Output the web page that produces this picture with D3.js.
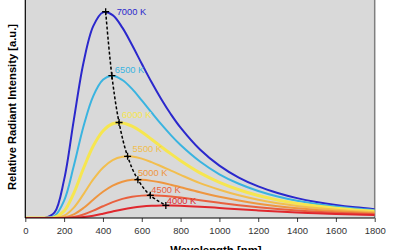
<!DOCTYPE html>
<html>
<head>
<meta charset="utf-8">
<script src="https://cdn.jsdelivr.net/npm/d3@7"></script>
<style>
  body { margin: 0; background: #fff; }
  svg { display: block; font-family: 'Liberation Sans', Arial, sans-serif; }
</style>
</head>
<body>
<div id="chart"></div>
<script>
// wavelength samples [nm]
var wavelengths = [0,100,150,200,250,300,350,400,450,500,550,600,650,700,750,800,900,1000,1100,1200,1300,1400,1500,1600,1700,1800];

// relative intensity (7000 K peak = 100)
var k7000 = [0,0.02,2.55,18.6,47.6,75.4,93.0,99.7,98.4,92.3,83.9,74.8,65.9,57.7,50.3,43.8,33.2,25.4,19.6,15.3,12.1,9.63,7.76,6.31,5.18,4.29];
var k6500 = [0,0,0.89,8.44,25.3,44.5,59.1,67.0,69.0,66.9,62.6,57.0,51.2,45.5,40.2,35.4,27.4,21.2,16.6,13.1,10.4,8.33,6.75,5.52,4.55,3.78];
var k6000 = [0,0,0.26,3.36,12.1,24.1,34.9,42.2,45.7,46.1,44.5,41.7,38.2,34.6,31.1,27.8,21.9,17.3,13.7,10.9,8.75,7.08,5.78,4.75,3.93,3.28];
var k5500 = [0,0,0.06,1.13,5.06,11.6,18.7,24.4,28.1,29.7,29.8,28.8,27.1,25.1,23.0,20.9,16.9,13.7,11.0,8.86,7.19,5.87,4.83,4.00,3.33,2.79];
var k5000 = [0,0,0.01,0.31,1.78,4.86,8.86,12.7,15.7,17.6,18.5,18.5,18.0,17.2,16.1,14.9,12.5,10.3,8.48,6.95,5.72,4.73,3.92,3.27,2.75,2.32];
var k4500 = [0,0,0,0.06,0.49,1.67,3.55,5.71,7.71,9.27,10.3,10.85,10.98,10.81,10.42,9.89,8.65,7.38,6.21,5.21,4.36,3.65,3.07,2.59,2.19,1.87];
var k4000 = [0,0,0,0.01,0.10,0.44,1.13,2.10,3.17,4.16,4.97,5.56,5.92,6.08,6.08,5.96,5.49,4.88,4.24,3.66,3.13,2.67,2.28,1.95,1.67,1.44];

var temperatures = [7000,6500,6000,5500,5000,4500,4000];
var seriesValues = [k7000,k6500,k6000,k5500,k5000,k4500,k4000];

// peak of each curve (wavelength, intensity)
var peakWavelengths = [414,446,483,527,580,644,724];
var peakValues = [100,69.0,46.3,29.9,18.6,11.0,6.09];

var xTicks = [0,200,400,600,800,1000,1200,1400,1600,1800];

var colors = ['#2b28cc','#3ab4e0','#f6e650','#f2be4e','#ee9640','#e9603e','#e0282e'];
var widths = [2,2,3,2,2,2,2];
// label nudge from the peak point, px
var labelNudge = [[11,3],[3,-2.5],[3,-4.5],[5,-4],[0,-3.5],[1,-2.5],[1,-1.5]];

var W = 400, H = 250;
var plotLeft = 25.3, plotRight = 374.7, plotTop = 0, plotBottom = 218;

var svg = d3.select('#chart').append('svg').attr('width',W).attr('height',H);

var x = d3.scaleLinear().domain([0,1800]).range([plotLeft,plotRight]);
var y = d3.scaleLinear().domain([0,105.7]).range([plotBottom,plotTop]);

// plot background
svg.append('rect')
   .attr('x',plotLeft).attr('y',plotTop)
   .attr('width',plotRight-plotLeft).attr('height',plotBottom-plotTop)
   .attr('fill','#d9d9d9');

svg.append('clipPath').attr('id','plotclip')
   .append('rect')
   .attr('x',plotLeft).attr('y',-5)
   .attr('width',plotRight-plotLeft).attr('height',plotBottom+5);

// right border
svg.append('line')
   .attr('x1',plotRight).attr('x2',plotRight).attr('y1',plotTop).attr('y2',plotBottom)
   .attr('stroke','#7f7f7f').attr('stroke-width',1.5);

var line = d3.line()
   .x(function(d){return x(d[0])})
   .y(function(d){return y(d[1])})
   .curve(d3.curveCatmullRom);

var curves = svg.append('g').attr('clip-path','url(#plotclip)');

seriesValues.forEach(function(vals,i){
    curves.append('path')
       .datum(wavelengths.map(function(w,j){return [w,vals[j]]}))
       .attr('d',line)
       .attr('fill','none')
       .attr('stroke',colors[i])
       .attr('stroke-width',widths[i])
       .attr('stroke-linejoin','round');
});

// peak locus
var peaks = peakWavelengths.map(function(w,i){return [w,peakValues[i]]});
svg.append('path')
   .datum(peaks)
   .attr('d',line)
   .attr('fill','none')
   .attr('stroke','#000')
   .attr('stroke-width',1.5)
   .attr('stroke-dasharray','3,2');

svg.append('g').selectAll('path')
   .data(peaks).enter()
   .append('path')
   .attr('d',function(d){
       var px = x(d[0]), py = y(d[1]);
       return 'M'+(px-3.5)+','+py+'H'+(px+3.5)+'M'+px+','+(py-3.5)+'V'+(py+3.5);
   })
   .attr('stroke','#000')
   .attr('stroke-width',1.3);

// temperature labels
svg.append('g').selectAll('text')
   .data(temperatures).enter()
   .append('text')
   .attr('x',function(d,i){return x(peakWavelengths[i])+labelNudge[i][0]})
   .attr('y',function(d,i){return y(peakValues[i])+labelNudge[i][1]})
   .attr('fill',function(d,i){return colors[i]})
   .style('font-size','9.3px')
   .text(function(d){return d+' K'});

// axes
var xAxis = svg.append('g')
   .attr('transform','translate(0,'+plotBottom+')')
   .call(d3.axisBottom(x).tickValues(xTicks).tickFormat(d3.format('d')).tickSize(4).tickSizeOuter(0));
xAxis.select('.domain').remove();
xAxis.selectAll('.tick line').attr('stroke','#404040');
xAxis.selectAll('.tick text')
   .attr('fill','#333')
   .attr('dy','0.95em')
   .style('font-size','9.5px')
   .style('font-family',"'Liberation Sans', Arial, sans-serif");

svg.append('line')
   .attr('x1',plotLeft).attr('x2',plotRight).attr('y1',plotBottom).attr('y2',plotBottom)
   .attr('stroke','#000').attr('stroke-width',1.2);
svg.append('line')
   .attr('x1',plotLeft).attr('x2',plotLeft).attr('y1',plotTop).attr('y2',plotBottom)
   .attr('stroke','#000').attr('stroke-width',1.2);

// axis titles
svg.append('text')
   .attr('x',216).attr('y',253.5)
   .attr('text-anchor','middle')
   .style('font-size','11.4px')
   .style('font-weight','bold')
   .attr('fill','#000')
   .text('Wavelength [nm]');

svg.append('text')
   .attr('transform','translate(15.5,107) rotate(-90)')
   .attr('text-anchor','middle')
   .style('font-size','11.2px')
   .style('font-weight','bold')
   .attr('fill','#000')
   .text('Relative Radiant Intensity [a.u.]');
</script>
</body>
</html>
